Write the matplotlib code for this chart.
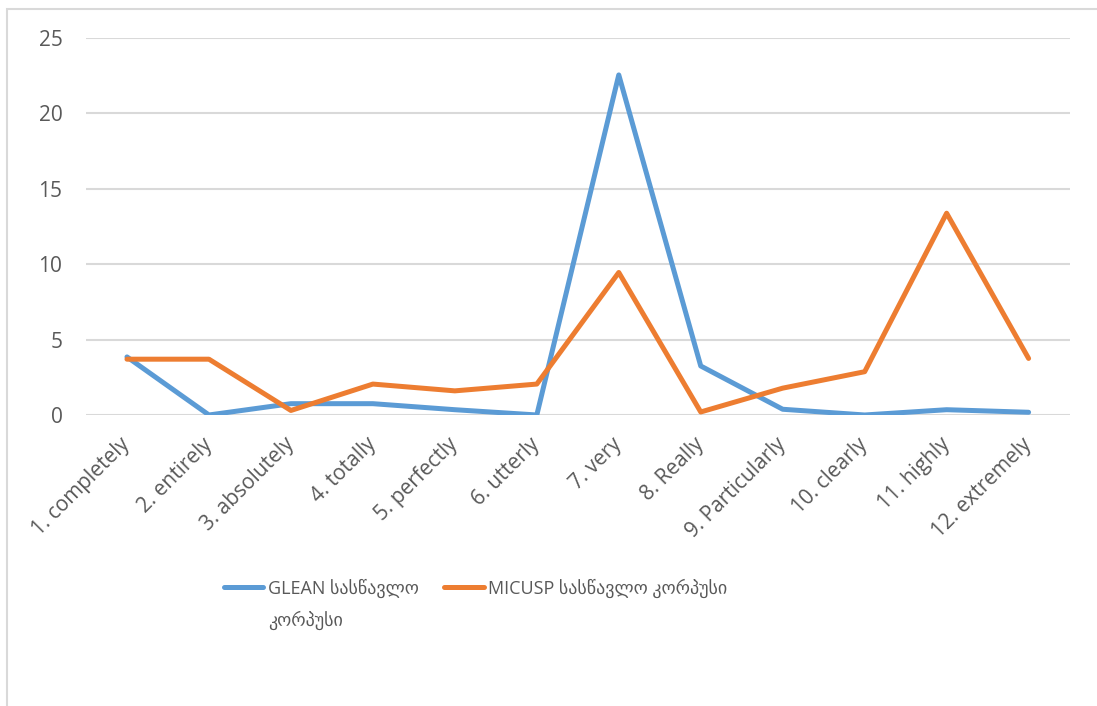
import matplotlib.pyplot as plt
from matplotlib.patches import Rectangle

categories = ["1. completely", "2. entirely", "3. absolutely", "4. totally", "5. perfectly",
              "6. utterly", "7. very", "8. Really", "9. Particularly", "10. clearly",
              "11. highly", "12. extremely"]
glean = [3.85, 0, 0.75, 0.75, 0.35, 0, 22.55, 3.25, 0.38, 0, 0.35, 0.18]
micusp = [3.7, 3.7, 0.3, 2.05, 1.6, 2.05, 9.45, 0.2, 1.78, 2.87, 13.38, 3.75]
yticks = [0, 5, 10, 15, 20, 25]

plt.rcParams["font.family"] = ["Open Sans", "DejaVu Sans"]
TXT = "#595959"

fig = plt.figure(figsize=(10.97, 7.06), dpi=100)
ax = fig.add_axes([0.0784, 0.4122, 0.8966, 0.5340])

x = range(len(categories))
ax.plot(x, glean, color="#5B9BD5", lw=3.6, solid_joinstyle="round", solid_capstyle="round",
        label="GLEAN სასწავლო", zorder=3)
ax.plot(x, micusp, color="#ED7D31", lw=3.6, solid_joinstyle="round", solid_capstyle="round",
        label="MICUSP სასწავლო კორპუსი", zorder=3)

ax.set_xlim(-0.5, len(categories) - 0.5)
ax.set_ylim(0, 25)
ax.set_yticks(yticks)
ax.set_xticks(list(x))
ax.set_xticklabels(categories, rotation=45, ha="right", va="center", rotation_mode="anchor")
ax.tick_params(axis="x", length=0, pad=19, labelsize=15, labelcolor=TXT)
ax.tick_params(axis="y", length=0, pad=17, labelsize=15, labelcolor=TXT)
ax.grid(axis="y", color="#d9d9d9", lw=1.5)
ax.set_axisbelow(True)
for s in ax.spines.values():
    s.set_visible(False)

leg = fig.legend(loc="upper left", bbox_to_anchor=(0.189, 0.2035), ncol=2, frameon=False,
                 fontsize=13, handlelength=2.2, handletextpad=0.25, columnspacing=1.4,
                 labelcolor=TXT)

# wrapped second line of the first legend label
fig.canvas.draw()
bb = leg.get_texts()[0].get_window_extent().transformed(fig.transFigure.inverted())
fig.text(bb.x0, bb.y0 - 0.045, "კორპუსი", fontsize=13, color=TXT, va="bottom", ha="left")

fig.patches.append(Rectangle((7 / 1097, -0.05), 1.2, 1 - 9 / 706 + 0.05, transform=fig.transFigure,
                             fill=False, edgecolor="#d9d9d9", lw=1.5))

fig.savefig("out.png", dpi=100)
